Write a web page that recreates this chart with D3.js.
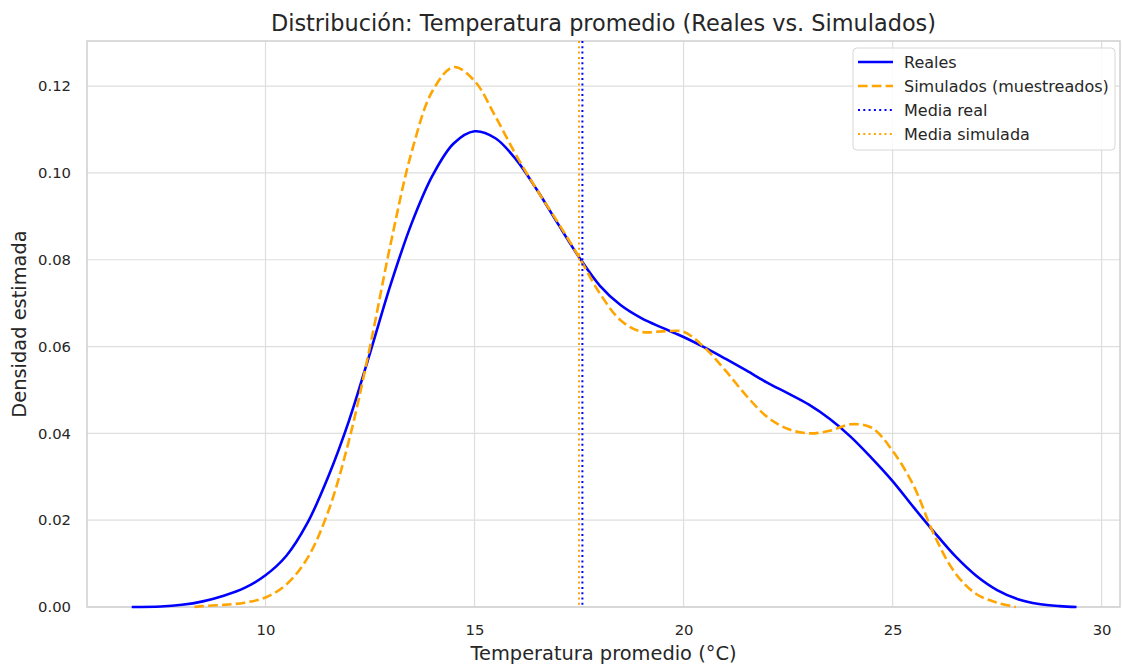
<!DOCTYPE html>
<html><head><meta charset="utf-8">
<script src="https://cdn.jsdelivr.net/npm/d3@7"></script>
<style>body{margin:0;background:#fff;} text{font-family:"DejaVu Sans",sans-serif;fill:#262626;}</style>
</head><body><svg id="c" width="1122" height="664"></svg>
<script>
const realX = [6.8,7.5,8,8.5,9,9.5,10,10.5,11,11.5,12,12.5,13,13.5,14,14.5,15,15.5,16,16.5,17,17.5,18,18.5,19,19.5,20,20.5,21,21.5,22,22.5,23,23.5,24,24.5,25,25.5,26,26.5,27,27.5,28,28.5,29,29.4];
const realY = [0,0.0001,0.0005,0.0013,0.0026,0.0044,0.0073,0.0118,0.0193,0.0300,0.0430,0.0585,0.0745,0.0885,0.0995,0.1068,0.1096,0.1080,0.1030,0.0960,0.0882,0.0806,0.0740,0.0695,0.0665,0.0643,0.0622,0.0598,0.0572,0.0545,0.0517,0.0492,0.0466,0.0433,0.0392,0.0343,0.0290,0.0230,0.0172,0.0117,0.0072,0.0039,0.0018,0.0007,0.0002,0];
const simX = [8.3,8.5,9,9.5,10,10.5,11,11.5,12,12.5,13,13.5,14,14.5,15,15.5,16,16.5,17,17.5,18,18.5,19,19.5,20,20.5,21,21.5,22,22.5,23,23.5,24,24.5,25,25.5,26,26.5,27,27.5,27.95];
const simY = [0,0.0002,0.0005,0.0010,0.0022,0.0052,0.0112,0.0220,0.0385,0.0600,0.0840,0.1050,0.1190,0.1244,0.1212,0.1130,0.1040,0.0960,0.0885,0.0806,0.0722,0.0660,0.0634,0.0635,0.0634,0.0598,0.0545,0.0487,0.0438,0.0410,0.0400,0.0406,0.0421,0.0413,0.0360,0.0280,0.0165,0.0078,0.0030,0.0010,0];
const meanReal = 17.58, meanSim = 17.50;
const xTicks = [10,15,20,25,30];
const yTicks = [0,0.02,0.04,0.06,0.08,0.10,0.12];
const legendLabels = ["Reales","Simulados (muestreados)","Media real","Media simulada"];

const svg = d3.select("#c");
const L=87,R=1120,T=41,B=607;
const x = d3.scaleLinear().domain([5.73,30.44]).range([L,R]);
const y = d3.scaleLinear().domain([0,0.1304]).range([B,T]);

// grid
svg.append("g").selectAll("line").data(xTicks).join("line")
  .attr("x1",d=>x(d)).attr("x2",d=>x(d)).attr("y1",T).attr("y2",B)
  .attr("stroke","#dedede").attr("stroke-width",1.2);
svg.append("g").selectAll("line").data(yTicks).join("line")
  .attr("x1",L).attr("x2",R).attr("y1",d=>y(d)).attr("y2",d=>y(d))
  .attr("stroke","#dedede").attr("stroke-width",1.2);
// frame
svg.append("rect").attr("x",L).attr("y",T).attr("width",R-L).attr("height",B-T)
  .attr("fill","none").attr("stroke","#d0d0d0").attr("stroke-width",1.5);

// axes
const xa = svg.append("g").attr("transform",`translate(0,${B})`)
  .call(d3.axisBottom(x).tickValues(xTicks).tickSize(0).tickPadding(17).tickFormat(d3.format("d")));
xa.select(".domain").remove();
xa.selectAll("text").style("font-size","14.8px").style("font-family","DejaVu Sans").style("fill","#262626");
const ya = svg.append("g").attr("transform",`translate(${L},0)`)
  .call(d3.axisLeft(y).tickValues(yTicks).tickSize(0).tickPadding(16).tickFormat(d3.format(".2f")));
ya.select(".domain").remove();
ya.selectAll("text").style("font-size","14.8px").style("font-family","DejaVu Sans").style("fill","#262626");

// curves
const line = d3.line().x(d=>x(d[0])).y(d=>y(d[1])).curve(d3.curveCatmullRom.alpha(0.5));
svg.append("path").datum(d3.zip(realX,realY)).attr("d",line)
  .attr("fill","none").attr("stroke","#0000ff").attr("stroke-width",2.6);
svg.append("path").datum(d3.zip(simX,simY)).attr("d",line)
  .attr("fill","none").attr("stroke","#ffa500").attr("stroke-width",2.6).attr("stroke-dasharray","9.6,4.2");

// mean lines
svg.append("line").attr("x1",x(meanReal)).attr("x2",x(meanReal)).attr("y1",T).attr("y2",B)
  .attr("stroke","#0000ff").attr("stroke-width",2).attr("stroke-dasharray","2,3.3");
svg.append("line").attr("x1",x(meanSim)).attr("x2",x(meanSim)).attr("y1",T).attr("y2",B)
  .attr("stroke","#ffa500").attr("stroke-width",2).attr("stroke-dasharray","2,3.3");

// titles
svg.append("text").attr("x",(L+R)/2).attr("y",31).attr("text-anchor","middle")
  .style("font-size","22.4px").text("Distribución: Temperatura promedio (Reales vs. Simulados)");
svg.append("text").attr("x",(L+R)/2).attr("y",660).attr("text-anchor","middle")
  .style("font-size","19.4px").text("Temperatura promedio (°C)");
svg.append("text").attr("transform",`translate(26,${(T+B)/2}) rotate(-90)`).attr("text-anchor","middle")
  .style("font-size","19.4px").text("Densidad estimada");

// legend
const lg = svg.append("g");
lg.append("rect").attr("x",853).attr("y",48).attr("width",262).attr("height",102).attr("rx",4)
  .attr("fill","rgba(255,255,255,0.85)").attr("stroke","#d8d8d8").attr("stroke-width",1);
const styles = [
  {c:"#0000ff",w:2.6,d:null},
  {c:"#ffa500",w:2.6,d:"9.6,4.2"},
  {c:"#0000ff",w:2,d:"2,3.3"},
  {c:"#ffa500",w:2,d:"2,3.3"}];
const rowY = [62,86,110,134];
legendLabels.forEach((t,i)=>{
  lg.append("line").attr("x1",858).attr("x2",893).attr("y1",rowY[i]).attr("y2",rowY[i])
    .attr("stroke",styles[i].c).attr("stroke-width",styles[i].w).attr("stroke-dasharray",styles[i].d);
  lg.append("text").attr("x",904).attr("y",rowY[i]+5.5).style("font-size","16px").text(t);
});
</script></body></html>
